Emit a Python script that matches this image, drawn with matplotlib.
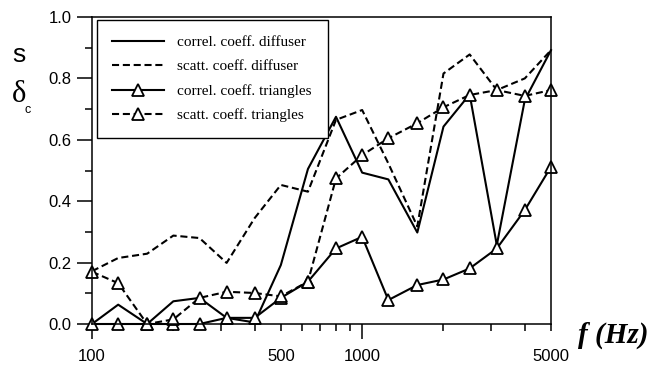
import matplotlib
matplotlib.use("Agg")
from matplotlib import pyplot as plt
from matplotlib.ticker import FixedLocator, NullFormatter, FormatStrFormatter

# one-third octave band centre frequencies
freq = [100, 125, 160, 200, 250, 315, 400, 500, 630, 800,
        1000, 1250, 1600, 2000, 2500, 3150, 4000, 5000]

correl_diffuser = [0.0, 0.063, 0.0, 0.074, 0.085, 0.02, 0.005, 0.192, 0.505, 0.675,
                   0.493, 0.471, 0.298, 0.643, 0.748, 0.257, 0.73, 0.892]
scatt_diffuser = [0.172, 0.215, 0.229, 0.288, 0.28, 0.199, 0.345, 0.453, 0.431, 0.665,
                  0.697, 0.523, 0.318, 0.816, 0.878, 0.762, 0.80, 0.892]
correl_triangles = [0.0, 0.0, 0.0, 0.0, 0.0, 0.02, 0.02, 0.085, 0.138, 0.246,
                    0.284, 0.078, 0.127, 0.145, 0.181, 0.246, 0.371, 0.512]
scatt_triangles = [0.17, 0.133, 0.0, 0.015, 0.085, 0.105, 0.101, 0.09, 0.138, 0.474,
                   0.55, 0.605, 0.654, 0.706, 0.746, 0.762, 0.743, 0.762]

labels = ["correl. coeff. diffuser", "scatt. coeff. diffuser",
          "correl. coeff. triangles", "scatt. coeff. triangles"]

plt.rcParams["font.family"] = "Liberation Sans"

fig = plt.figure(figsize=(6.62, 3.65), dpi=100)
ax = fig.add_axes([92 / 662, 1 - 324 / 365, 459 / 662, 307 / 365])

lw = 1.5
dash = (3.4, 1.8)
mk = dict(marker="^", markersize=8.5, markerfacecolor="white",
          markeredgecolor="black", markeredgewidth=1.3)

ax.plot(freq, correl_diffuser, color="black", lw=lw, label=labels[0], clip_on=False)
ax.plot(freq, scatt_diffuser, color="black", lw=lw, dashes=dash, label=labels[1], clip_on=False)
ax.plot(freq, correl_triangles, color="black", lw=lw, label=labels[2], clip_on=False, **mk)
ax.plot(freq, scatt_triangles, color="black", lw=lw, dashes=dash, label=labels[3], clip_on=False, **mk)

ax.set_xscale("log")
ax.set_xlim(100, 5000)
ax.set_ylim(0, 1.0)

ax.set_xticks([100, 500, 1000, 5000], labels=["100", "500", "1000", "5000"])
ax.xaxis.set_minor_locator(FixedLocator([200, 300, 400, 600, 700, 800, 900, 2000, 3000, 4000]))
ax.xaxis.set_minor_formatter(NullFormatter())
ax.set_yticks([0, 0.2, 0.4, 0.6, 0.8, 1.0])
ax.yaxis.set_minor_locator(FixedLocator([0.1, 0.3, 0.5, 0.7, 0.9]))
ax.yaxis.set_major_formatter(FormatStrFormatter("%.1f"))

ax.tick_params(which="major", direction="out", length=11, width=1.1, labelsize=12)
ax.tick_params(which="minor", direction="out", length=5, width=1.1)
ax.tick_params(axis="x", which="major", pad=7)
ax.tick_params(axis="y", which="major", pad=3.5)
# 500 and 5000 only get short ticks
for i in (1, 3):
    ax.xaxis.get_major_ticks()[i].tick1line.set_markersize(5)

for sp in ax.spines.values():
    sp.set_linewidth(1.1)

leg = ax.legend(loc="upper left", bbox_to_anchor=(0.011, 0.619, 0.503, 0.371), mode="expand",
                borderaxespad=0, fancybox=False, edgecolor="black", framealpha=1,
                prop={"family": "Liberation Serif", "size": 11}, handlelength=3.35,
                handletextpad=0.9, labelspacing=0.7, borderpad=1.0)
leg.get_frame().set_linewidth(1.0)

fig.text(18.5 / 662, 1 - 55 / 365, "s", fontsize=19, ha="center", va="center")
fig.text(19 / 662, 1 - 95 / 365, "\u03b4", fontsize=22, family="Liberation Serif",
         ha="center", va="center")
fig.text(28 / 662, 1 - 110 / 365, "c", fontsize=9, ha="center", va="center")
fig.text(613 / 662, 1 - 335 / 365, "f (Hz)", fontsize=21, family="Liberation Serif",
         weight="bold", style="italic", ha="center", va="center")

fig.savefig("out.png", dpi=100)
